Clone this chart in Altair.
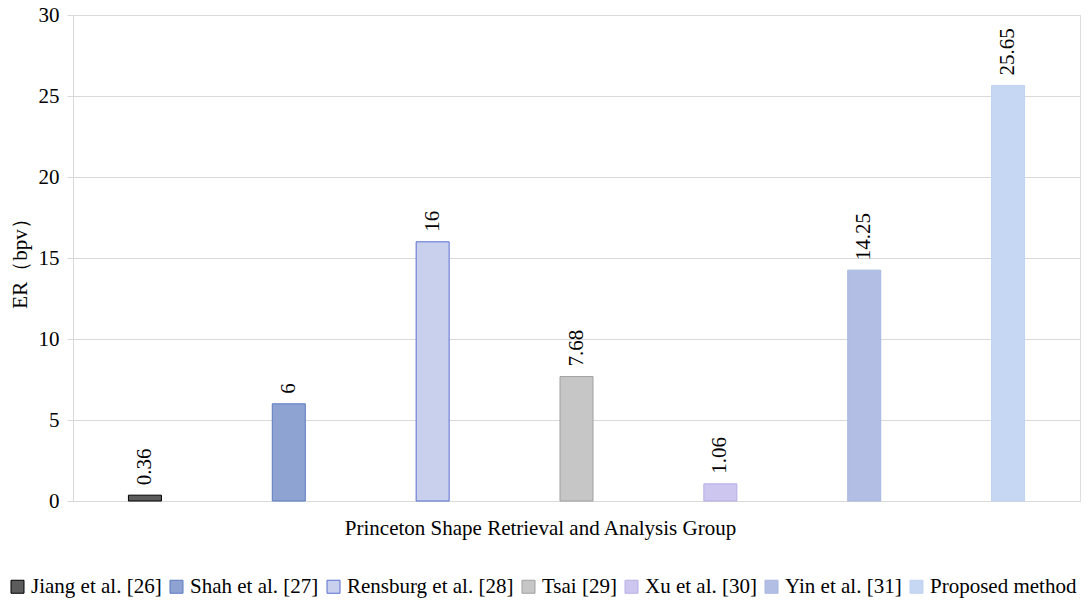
import altair as alt
import pandas as pd

# Embedding rate of each method on the Princeton Shape Retrieval and Analysis Group set
methods = [
    "Jiang et al. [26]",
    "Shah et al. [27]",
    "Rensburg et al. [28]",
    "Tsai [29]",
    "Xu et al. [30]",
    "Yin et al. [31]",
    "Proposed method",
]
er_values = [0.36, 6, 16, 7.68, 1.06, 14.25, 25.65]
value_labels = ["0.36", "6", "16", "7.68", "1.06", "14.25", "25.65"]

fill_colors = ["#5c5c5c", "#8ea3d2", "#c9d0ee", "#c6c6c6", "#cdc6ee", "#b2bee4", "#c6d7f4"]
edge_colors = ["#000000", "#5b7bc0", "#5a6fd0", "#a0a0a0", "#b8aee6", "#a8b6e0", "#c0d3f2"]

df = pd.DataFrame({"method": methods, "er": er_values, "label": value_labels})

FONT = "'Times New Roman', 'Liberation Serif', serif"
FS = 21

x_enc = alt.X(
    "method:N",
    sort=methods,
    scale=alt.Scale(paddingInner=0, paddingOuter=0),
    axis=alt.Axis(
        labels=False,
        ticks=False,
        domainColor="#d9d9d9",
        title="Princeton Shape Retrieval and Analysis Group",
        titleFont=FONT,
        titleFontSize=FS,
        titleFontWeight="normal",
        titleColor="#000000",
        titleX=467,
        titleY=27,
        titleBaseline="middle",
        titleAnchor="start",
        titleAlign="center",
    ),
)

y_enc = alt.Y(
    "er:Q",
    scale=alt.Scale(domain=[0, 30]),
    axis=alt.Axis(
        values=[0, 5, 10, 15, 20, 25, 30],
        title="ER（bpv）",
        titleFont=FONT,
        titleFontSize=FS,
        titleFontWeight="normal",
        titleColor="#000000",
        titlePadding=8,
        labelFont=FONT,
        labelFontSize=FS,
        labelColor="#000000",
        labelPadding=8,
        tickSize=6,
        tickColor="#d9d9d9",
        domainColor="#d9d9d9",
        gridColor="#d9d9d9",
        gridWidth=1,
    ),
)

bars = alt.Chart(df).mark_bar(size=33, strokeWidth=1).encode(
    x=x_enc,
    y=y_enc,
    fill=alt.Fill(
        "method:N",
        sort=methods,
        scale=alt.Scale(domain=methods, range=fill_colors),
        legend=alt.Legend(
            title=None,
            orient="none",
            direction="horizontal",
            columns=7,
            legendX=-66,
            legendY=561,
            symbolType="square",
            symbolSize=169,
            symbolStrokeWidth=1,
            labelFont=FONT,
            labelFontSize=FS,
            labelColor="#000000",
            labelOffset=3,
            columnPadding=4,
            labelLimit=300,
        ),
    ),
    stroke=alt.Stroke(
        "method:N",
        sort=methods,
        scale=alt.Scale(domain=methods, range=edge_colors),
        legend=None,
    ),
)

labels = alt.Chart(df).mark_text(
    angle=270,
    align="left",
    baseline="middle",
    dx=10,
    font=FONT,
    fontSize=FS,
    color="#000000",
).encode(
    x=alt.X("method:N", sort=methods),
    y=alt.Y("er:Q"),
    text="label:N",
)

chart = (
    alt.layer(bars, labels)
    .properties(
        width=1007,
        height=486,
        autosize=alt.AutoSizeParams(type="none"),
        padding={"left": 73, "top": 15, "right": 11, "bottom": 100},
    )
    .configure_view(stroke=None)
    .configure(background="#ffffff")
)

chart.save("out.html", embed_options={"renderer": "svg", "actions": False})
